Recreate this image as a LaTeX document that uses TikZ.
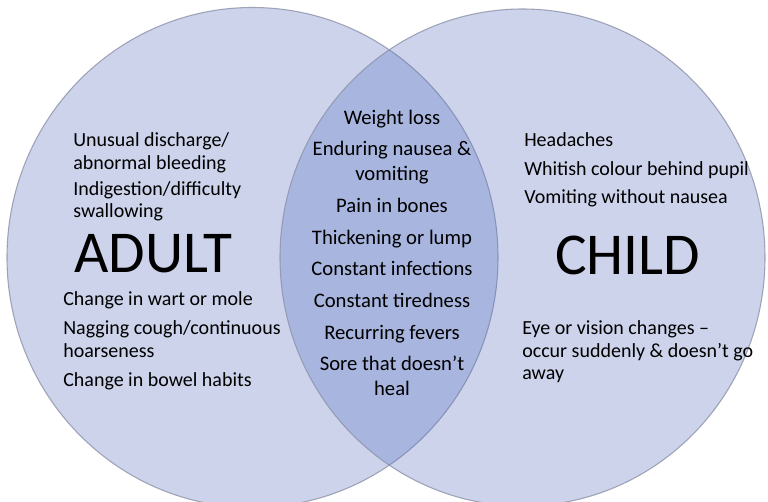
\documentclass[tikz,border=0pt]{standalone}
\usepackage{fontspec}
\setmainfont{Carlito}
\usetikzlibrary{positioning}
\definecolor{vennblue}{RGB}{88,112,192}
\definecolor{rim}{RGB}{140,146,168}

\begin{document}
\begin{tikzpicture}[
  x=0.75pt, y=-0.75pt,
  set/.style={fill=vennblue, fill opacity=0.3, draw=rim, draw opacity=0.8,
              line width=0.8pt},
  lst/.style={inner sep=0pt, align=left, anchor=base west,
              font=\fontsize{15}{16.9}\selectfont},
  mid/.style={inner sep=0pt, align=center, anchor=base,
              font=\fontsize{15.5}{18.75}\selectfont},
  big/.style={inner sep=0pt, anchor=base west,
              font=\fontsize{44.5}{50}\selectfont},
]
\useasboundingbox (0,0) rectangle (768,502);
\fill[white] (0,0) rectangle (768,502);
\clip (0,0) rectangle (768,502);
% the two sets
\draw[set] (252.5,257.5) ellipse [x radius=245.5, y radius=250];
\draw[set] (522.5,257.5) ellipse [x radius=242.5, y radius=248.5];
% adult side (base = last line)
\node[lst] (adulttop) at (73,218)
  {Unusual discharge/\\abnormal bleeding\\[2.6pt]Indigestion/difficulty\\swallowing};
\node[big] (adult) at (74,273) {ADULT};
\node[lst, font=\fontsize{15}{17.25}\selectfont] (adultlow) at (63,387)
  {Change in wart or mole\\[4.5pt]Nagging cough/continuous\\hoarseness\\[4.5pt]Change in bowel habits};
% shared
\node[mid] (both) at (392,396)
  {Weight loss\\[5pt]Enduring nausea \&\\vomiting\\[5pt]Pain in bones\\[5pt]Thickening or lump\\[5pt]Constant infections\\[5pt]Constant tiredness\\[5pt]Recurring fevers\\[5pt]Sore that doesn’t\\heal};
% child side
\node[lst] (childtop) at (524,204)
  {Headaches\\[4.5pt]Whitish colour behind pupil\\[4.5pt]Vomiting without nausea};
\node[big] (child) at (555,275) {CHILD};
\node[lst] (childlow) at (522,380)
  {Eye or vision changes --\\occur suddenly \& doesn’t go\\away};
\end{tikzpicture}
\end{document}
